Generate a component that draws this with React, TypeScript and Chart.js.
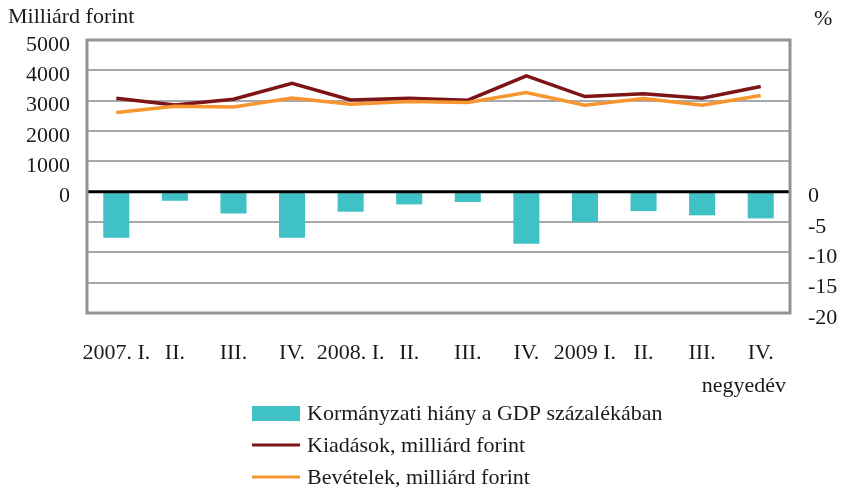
import React, { useEffect, useRef } from "react";
import { Chart, registerables } from "chart.js";

Chart.register(...registerables);

const quarters = ["2007. I.", "II.", "III.", "IV.", "2008. I.", "II.", "III.", "IV.", "2009 I.", "II.", "III.", "IV."];
const deficit = [-7.6, -1.5, -3.6, -7.6, -3.3, -2.1, -1.7, -8.6, -5.0, -3.2, -3.9, -4.4];
const expenditures = [3080, 2860, 3050, 3575, 3025, 3080, 3015, 3820, 3135, 3225, 3080, 3465];
const revenues = [2610, 2815, 2795, 3090, 2880, 2970, 2940, 3270, 2850, 3070, 2850, 3170];
const seriesLabels = ["Kormányzati hiány a GDP százalékában", "Kiadások, milliárd forint", "Bevételek, milliárd forint"];
const leftTitle = "Milliárd forint";
const rightTitle = "%";
const xTitle = "negyedév";

const FONT = "'Liberation Serif', 'DejaVu Serif', serif";
const TEXT = "#1a1a1a";
const BAR = "#40c1c5";
const RED = "#7d1416";
const ORANGE = "#f7962f";

const overlay = {
  id: "overlay",
  afterDatasetsDraw(chart: any) {
    const { ctx, chartArea } = chart;
    const yl = chart.scales.yLeft;
    ctx.save();
    const y0 = yl.getPixelForValue(0);
    ctx.strokeStyle = "#000";
    ctx.lineWidth = 3;
    ctx.beginPath();
    ctx.moveTo(chartArea.left, y0);
    ctx.lineTo(chartArea.right, y0);
    ctx.stroke();
    ctx.strokeStyle = "#909498";
    ctx.lineWidth = 3;
    ctx.strokeRect(chartArea.left, chartArea.top, chartArea.right - chartArea.left, chartArea.bottom - chartArea.top);
    ctx.restore();
  },
  afterDraw(chart: any) {
    const { ctx } = chart;
    ctx.save();
    ctx.fillStyle = TEXT;
    ctx.font = `22px ${FONT}`;
    ctx.textBaseline = "middle";
    ctx.textAlign = "left";
    ctx.fillText(leftTitle, 8, 17);
    ctx.fillText(rightTitle, 814, 19);
    ctx.textAlign = "right";
    ctx.fillText(xTitle, 786, 386);
    ctx.textAlign = "left";
    const rows = [414, 446, 478];
    ctx.fillStyle = BAR;
    ctx.fillRect(252, 406, 48, 15);
    ctx.strokeStyle = RED;
    ctx.lineWidth = 3;
    ctx.beginPath();
    ctx.moveTo(252, 445);
    ctx.lineTo(300, 445);
    ctx.stroke();
    ctx.strokeStyle = ORANGE;
    ctx.beginPath();
    ctx.moveTo(252, 477);
    ctx.lineTo(300, 477);
    ctx.stroke();
    ctx.fillStyle = TEXT;
    seriesLabels.forEach((t, i) => ctx.fillText(t, 307, rows[i]));
    ctx.restore();
  },
};

export default function App() {
  const ref = useRef<HTMLCanvasElement | null>(null);
  useEffect(() => {
    if (!ref.current) return;
    const chart = new Chart(ref.current, {
      type: "bar",
      data: {
        labels: quarters,
        datasets: [
          {
            type: "line",
            label: seriesLabels[1],
            data: expenditures,
            yAxisID: "yLeft",
            borderColor: RED,
            backgroundColor: RED,
            borderWidth: 3.5,
            pointRadius: 0,
            tension: 0,
            order: 1,
          },
          {
            type: "line",
            label: seriesLabels[2],
            data: revenues,
            yAxisID: "yLeft",
            borderColor: ORANGE,
            backgroundColor: ORANGE,
            borderWidth: 3.5,
            pointRadius: 0,
            tension: 0,
            order: 0,
          },
          {
            type: "bar",
            label: seriesLabels[0],
            data: deficit,
            yAxisID: "yRight",
            backgroundColor: BAR,
            barPercentage: 0.445,
            categoryPercentage: 1,
            order: 2,
          },
        ],
      },
      options: {
        responsive: false,
        animation: false,
        layout: { padding: { top: 40, left: 0, right: 0, bottom: 0 } },
        plugins: { legend: { display: false }, tooltip: { enabled: false } },
        scales: {
          x: {
            offset: true,
            grid: { display: false },
            border: { display: false },
            ticks: { color: TEXT, font: { family: FONT, size: 22 }, padding: 19, maxRotation: 0, autoSkip: false },
            afterFit: (s: any) => { s.height = 179; },
          },
          yLeft: {
            position: "left",
            min: -4000,
            max: 5000,
            ticks: {
              stepSize: 1000,
              color: TEXT,
              font: { family: FONT, size: 22 },
              padding: 17,
              labelOffset: 5,
              callback: (v: any) => (Number(v) >= 0 ? String(v) : ""),
            },
            grid: { color: "#a6a8ab", lineWidth: 2, drawTicks: false },
            border: { display: false },
            afterFit: (s: any) => { s.width = 87; },
          },
          yRight: {
            position: "right",
            min: -20,
            max: 25,
            ticks: {
              stepSize: 5,
              color: TEXT,
              font: { family: FONT, size: 22 },
              padding: 18,
              labelOffset: 5,
              callback: (v: any) => (Number(v) <= 0 ? String(v) : ""),
            },
            grid: { display: false, drawTicks: false },
            border: { display: false },
            afterFit: (s: any) => { s.width = 55; },
          },
        },
      },
      plugins: [overlay],
    });
    return () => chart.destroy();
  }, []);
  return (
    <div style={{ position: "fixed", left: 0, top: 0, width: 845, height: 492, background: "#fff" }}>
      <canvas ref={ref} width={845} height={492} />
    </div>
  );
}
